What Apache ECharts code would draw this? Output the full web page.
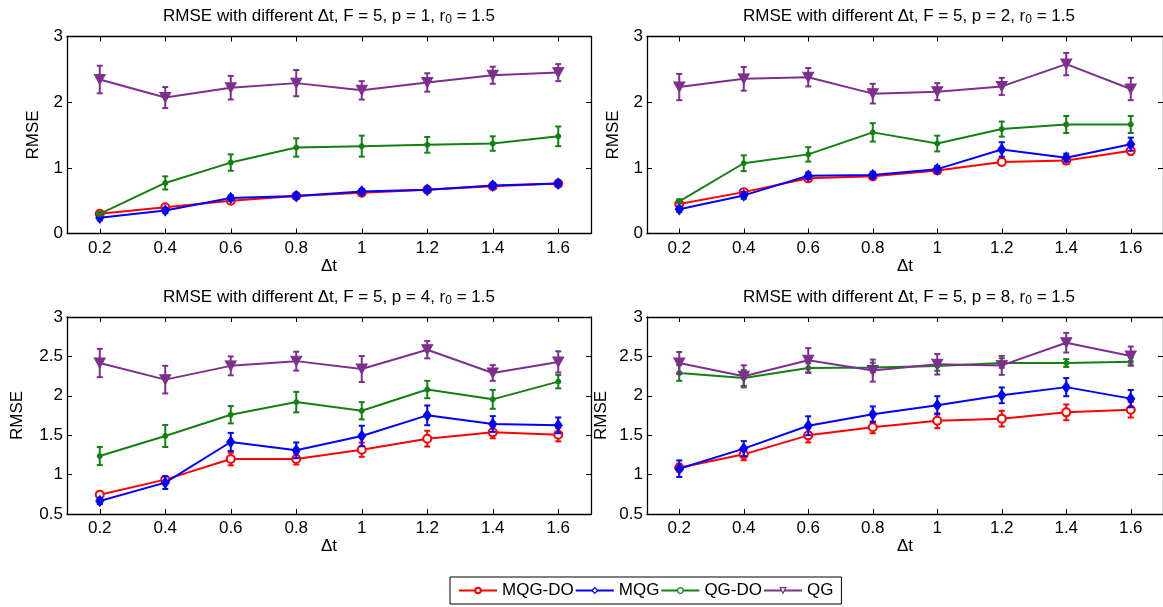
<!DOCTYPE html>
<html>
<head>
<meta charset="utf-8">
<script src="https://cdn.jsdelivr.net/npm/echarts@6/dist/echarts.min.js"></script>
<style>html,body{margin:0;padding:0;background:#fff;}#c{width:1163px;height:607px;}</style>
</head>
<body>
<div id="c"></div>
<script>
const dt = [0.2, 0.4, 0.6, 0.8, 1.0, 1.2, 1.4, 1.6];
const seriesNames = ['MQG-DO', 'MQG', 'QG-DO', 'QG'];
const pValues = [1, 2, 4, 8];

// Panel p = 1
const p1_MQGDO = [0.30, 0.40, 0.50, 0.57, 0.62, 0.665, 0.72, 0.76];
const p1_MQGDO_err = [0.03, 0.03, 0.03, 0.03, 0.03, 0.03, 0.03, 0.03];
const p1_MQG = [0.24, 0.35, 0.54, 0.57, 0.64, 0.665, 0.73, 0.76];
const p1_MQG_err = [0.04, 0.04, 0.04, 0.04, 0.04, 0.04, 0.04, 0.04];
const p1_QGDO = [0.30, 0.77, 1.08, 1.31, 1.33, 1.35, 1.37, 1.48];
const p1_QGDO_err = [0.03, 0.10, 0.125, 0.14, 0.16, 0.12, 0.11, 0.15];
const p1_QG = [2.345, 2.07, 2.22, 2.29, 2.18, 2.30, 2.41, 2.45];
const p1_QG_err = [0.21, 0.16, 0.18, 0.20, 0.14, 0.14, 0.13, 0.13];

// Panel p = 2
const p2_MQGDO = [0.45, 0.63, 0.84, 0.87, 0.96, 1.09, 1.11, 1.26];
const p2_MQGDO_err = [0.04, 0.04, 0.04, 0.04, 0.05, 0.05, 0.05, 0.06];
const p2_MQG = [0.37, 0.58, 0.88, 0.89, 0.98, 1.28, 1.155, 1.36];
const p2_MQG_err = [0.04, 0.05, 0.05, 0.05, 0.05, 0.11, 0.06, 0.10];
const p2_QGDO = [0.49, 1.07, 1.205, 1.54, 1.37, 1.59, 1.66, 1.66];
const p2_QGDO_err = [0.03, 0.12, 0.11, 0.14, 0.12, 0.115, 0.13, 0.13];
const p2_QG = [2.23, 2.355, 2.38, 2.13, 2.16, 2.24, 2.58, 2.20];
const p2_QG_err = [0.20, 0.18, 0.14, 0.15, 0.13, 0.13, 0.17, 0.17];

// Panel p = 4
const p4_MQGDO = [0.745, 0.936, 1.198, 1.198, 1.316, 1.456, 1.536, 1.507];
const p4_MQGDO_err = [0.04, 0.04, 0.08, 0.07, 0.09, 0.10, 0.075, 0.085];
const p4_MQG = [0.665, 0.898, 1.414, 1.308, 1.49, 1.752, 1.642, 1.625];
const p4_MQG_err = [0.04, 0.08, 0.115, 0.10, 0.13, 0.125, 0.10, 0.10];
const p4_QGDO = [1.236, 1.49, 1.76, 1.92, 1.81, 2.08, 1.955, 2.18];
const p4_QGDO_err = [0.115, 0.14, 0.11, 0.13, 0.11, 0.11, 0.12, 0.085];
const p4_QG = [2.416, 2.205, 2.38, 2.44, 2.34, 2.585, 2.29, 2.43];
const p4_QG_err = [0.18, 0.175, 0.12, 0.12, 0.165, 0.11, 0.10, 0.135];

// Panel p = 8
const p8_MQGDO = [1.088, 1.257, 1.498, 1.60, 1.684, 1.71, 1.79, 1.824];
const p8_MQGDO_err = [0.05, 0.075, 0.09, 0.075, 0.095, 0.10, 0.10, 0.10];
const p8_MQG = [1.075, 1.33, 1.62, 1.765, 1.88, 2.006, 2.11, 1.964];
const p8_MQG_err = [0.105, 0.095, 0.12, 0.10, 0.115, 0.10, 0.115, 0.11];
const p8_QGDO = [2.29, 2.226, 2.353, 2.36, 2.378, 2.416, 2.416, 2.433];
const p8_QGDO_err = [0.10, 0.10, 0.06, 0.06, 0.06, 0.06, 0.05, 0.05];
const p8_QG = [2.416, 2.247, 2.45, 2.32, 2.40, 2.386, 2.674, 2.505];
const p8_QG_err = [0.14, 0.14, 0.155, 0.14, 0.13, 0.12, 0.125, 0.12];

const panelData = [
  {vals: [p1_MQGDO, p1_MQG, p1_QGDO, p1_QG], errs: [p1_MQGDO_err, p1_MQG_err, p1_QGDO_err, p1_QG_err]},
  {vals: [p2_MQGDO, p2_MQG, p2_QGDO, p2_QG], errs: [p2_MQGDO_err, p2_MQG_err, p2_QGDO_err, p2_QG_err]},
  {vals: [p4_MQGDO, p4_MQG, p4_QGDO, p4_QG], errs: [p4_MQGDO_err, p4_MQG_err, p4_QGDO_err, p4_QG_err]},
  {vals: [p8_MQGDO, p8_MQG, p8_QGDO, p8_QG], errs: [p8_MQGDO_err, p8_MQG_err, p8_QGDO_err, p8_QG_err]}
];

const colors = ['#ff0000', '#0000ff', '#128012', '#7e2f8e'];
const FONT = 'Liberation Sans, Arial, Helvetica, sans-serif';
const FS = 17;

const grids = [
  {left: 67, top: 36.5, width: 524, height: 197},
  {left: 647, top: 36.5, width: 524, height: 197},
  {left: 67, top: 317, width: 524, height: 197},
  {left: 647, top: 317, width: 524, height: 197}
];
const titleTops = [8, 8, 289, 289];
const yNameGaps = [25, 25, 41, 37];

const symbols = [
  {symbol: 'emptyCircle', symbolSize: 8, symbolRotate: 0},
  {symbol: 'diamond', symbolSize: [8, 11], symbolRotate: 0},
  {symbol: 'circle', symbolSize: 5, symbolRotate: 0},
  {symbol: 'triangle', symbolSize: [11, 10], symbolRotate: 180}
];

const legendData = seriesNames.map((n, k) => k === 0
  ? {name: n, itemStyle: {color: colors[k], borderColor: colors[k], borderWidth: 1.2}}
  : {name: n});

const option = {
  animation: false,
  backgroundColor: '#ffffff',
  textStyle: {fontFamily: FONT},
  title: [],
  grid: grids.map(g => Object.assign({containLabel: false}, g)),
  xAxis: [],
  yAxis: [],
  legend: {
    data: legendData,
    left: 450, top: 577,
    orient: 'horizontal',
    padding: [5, 8],
    itemWidth: 38, itemHeight: 7, itemGap: 1,
    borderColor: '#000', borderWidth: 1,
    itemStyle: {color: '#ffffff', borderWidth: 1.2},
    textStyle: {fontSize: FS, color: '#000', fontFamily: FONT},
    selectedMode: false
  },
  series: []
};

const axisCommon = {
  axisLine: {show: true, onZero: false, lineStyle: {color: '#000', width: 1.3}},
  splitLine: {show: false}
};

for (let i = 0; i < 4; i++) {
  const g = grids[i];
  option.title.push({
    text: '{a|RMSE with different Δt, F = 5, p = ' + pValues[i] + ', r}{s|0}{a| = 1.5}',
    left: g.left + 262, top: titleTops[i], textAlign: 'center',
    padding: 0,
    textStyle: {
      fontWeight: 'normal',
      rich: {
        a: {fontSize: FS, fontWeight: 'normal', color: '#000', fontFamily: FONT, lineHeight: 18, verticalAlign: 'top'},
        s: {fontSize: 12, fontWeight: 'normal', color: '#000', fontFamily: FONT, lineHeight: 12, padding: [14, 0, 0, 0], verticalAlign: 'bottom'}
      }
    }
  });
  const isBottom = i >= 2;
  const ymin = isBottom ? 0.5 : 0;
  const yint = isBottom ? 0.5 : 1;
  option.xAxis.push(Object.assign({}, axisCommon, {
    type: 'value', gridIndex: i, position: 'bottom', min: 0.1, max: 1.7,
    name: 'Δt', nameLocation: 'middle', nameGap: 24,
    nameTextStyle: {fontSize: FS, color: '#000', fontFamily: FONT},
    axisTick: {show: true, inside: true, length: 5, customValues: dt, lineStyle: {color: '#000'}},
    axisLabel: {show: true, customValues: dt, margin: 6, fontSize: FS, color: '#000', fontFamily: FONT,
      formatter: v => String(Math.round(v * 10) / 10)}
  }));
  option.xAxis.push(Object.assign({}, axisCommon, {
    type: 'value', gridIndex: i, position: 'top', min: 0.1, max: 1.7,
    axisTick: {show: true, inside: true, length: 5, customValues: dt, lineStyle: {color: '#000'}},
    axisLabel: {show: false}
  }));
  option.yAxis.push(Object.assign({}, axisCommon, {
    type: 'value', gridIndex: i, position: 'left', min: ymin, max: 3, interval: yint,
    name: 'RMSE', nameLocation: 'middle', nameGap: yNameGaps[i], nameRotate: 90,
    nameTextStyle: {fontSize: FS, color: '#000', fontFamily: FONT},
    axisTick: {show: true, inside: true, length: 5, lineStyle: {color: '#000'}},
    axisLabel: {show: true, margin: 4, fontSize: FS, color: '#000', fontFamily: FONT}
  }));
  option.yAxis.push(Object.assign({}, axisCommon, {
    type: 'value', gridIndex: i, position: 'right', min: ymin, max: 3, interval: yint,
    axisTick: {show: true, inside: true, length: 5, lineStyle: {color: '#000'}},
    axisLabel: {show: false}
  }));

  const pd = panelData[i];
  for (let s = 0; s < 4; s++) {
    const vals = pd.vals[s], errs = pd.errs[s];
    const color = colors[s];
    option.series.push({
      type: 'custom', name: seriesNames[s] + ' error',
      xAxisIndex: i * 2, yAxisIndex: i * 2, z: 2 + s,
      data: dt.map((x, k) => [x, vals[k] - errs[k], vals[k] + errs[k]]),
      renderItem: function (params, api) {
        const x = api.value(0);
        const lo = api.coord([x, api.value(1)]);
        const hi = api.coord([x, api.value(2)]);
        const cw = 3;
        return {
          type: 'group',
          children: [
            {type: 'line', shape: {x1: lo[0], y1: lo[1], x2: hi[0], y2: hi[1]}, style: {stroke: color, lineWidth: 2}},
            {type: 'line', shape: {x1: lo[0] - cw, y1: lo[1], x2: lo[0] + cw, y2: lo[1]}, style: {stroke: color, lineWidth: 2}},
            {type: 'line', shape: {x1: hi[0] - cw, y1: hi[1], x2: hi[0] + cw, y2: hi[1]}, style: {stroke: color, lineWidth: 2}}
          ]
        };
      },
      encode: {x: 0, y: [1, 2]},
      silent: true
    });
    option.series.push({
      type: 'line', name: seriesNames[s],
      xAxisIndex: i * 2, yAxisIndex: i * 2, z: 2 + s,
      data: dt.map((x, k) => [x, vals[k]]),
      symbol: symbols[s].symbol, symbolSize: symbols[s].symbolSize, symbolRotate: symbols[s].symbolRotate,
      showAllSymbol: true,
      lineStyle: {color: color, width: 2},
      itemStyle: {color: color, borderColor: color, borderWidth: s === 0 ? 2 : 1},
      emphasis: {disabled: true}
    });
  }
}

const chart = echarts.init(document.getElementById('c'), null, {renderer: 'canvas'});
chart.setOption(option);
</script>
</body>
</html>
